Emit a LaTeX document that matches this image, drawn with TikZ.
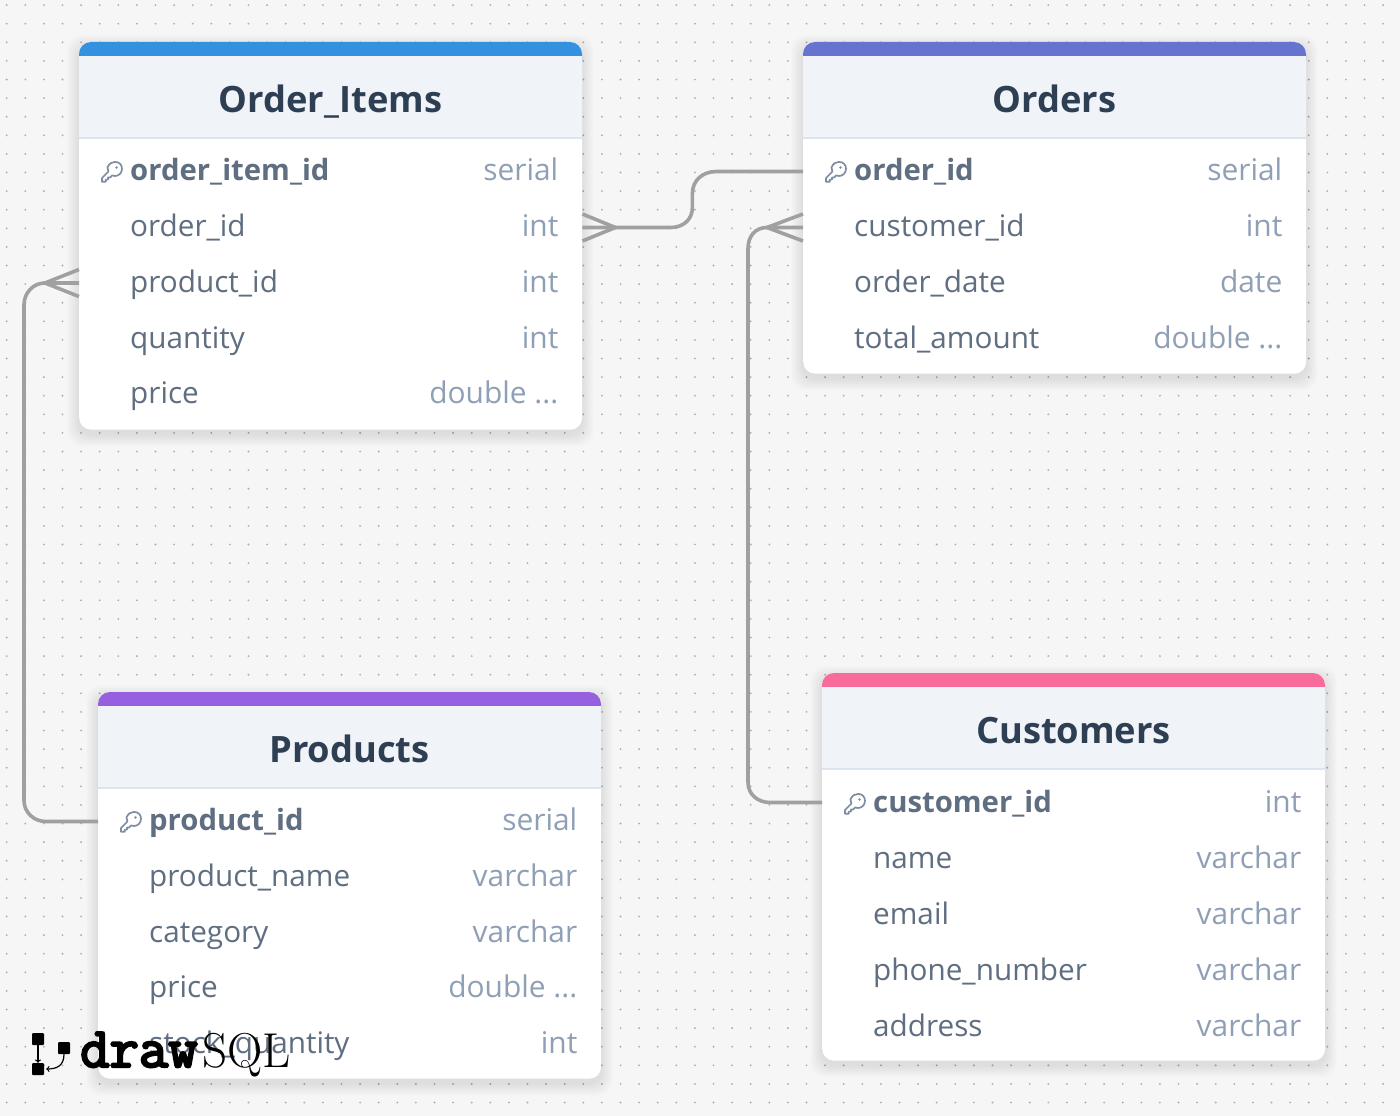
\documentclass[tikz,border=0pt]{standalone}
\usepackage{fontspec}
\setmainfont{Open Sans}
\newfontfamily\logoboldfont[FakeBold=4]{Latin Modern Mono}
\newfontfamily\logormfont{Latin Modern Roman}
\definecolor{bgc}{HTML}{F6F6F6}
\definecolor{dotc}{HTML}{B0B0B0}
\definecolor{headc}{HTML}{F0F4F9}
\definecolor{rulec}{HTML}{DCE4EE}
\definecolor{titlec}{HTML}{2F3F53}
\definecolor{namec}{HTML}{5F6E80}
\definecolor{typec}{HTML}{8FA0B6}
\definecolor{keyc}{HTML}{7F8EA2}
\definecolor{linec}{HTML}{A0A0A0}
\definecolor{cblue}{HTML}{3391E0}
\definecolor{cindigo}{HTML}{6673CF}
\definecolor{cpurple}{HTML}{9660E0}
\definecolor{cpink}{HTML}{F86B9A}
\tikzset{
  x=1pt,y=-1pt,
  cardbox/.style={anchor=north west,fill=white,rounded corners=12pt,inner sep=0pt,minimum width=503pt},
  titletext/.style={anchor=base,text=titlec,inner sep=0pt,font=\fontsize{36.3}{37}\selectfont\bfseries},
  nametext/.style={anchor=base west,text=namec,inner sep=0pt,font=\fontsize{29.7}{30}\selectfont},
  pknametext/.style={nametext,font=\fontsize{29.3}{30}\selectfont\bfseries},
  typetext/.style={anchor=base east,text=typec,inner sep=0pt,font=\fontsize{29.9}{30}\selectfont},
  rel/.style={draw=linec,line width=3.6pt},
  keyline/.style={draw=keyc,line width=1.7pt,line join=round,line cap=round},
  logobox/.style={fill=black,rounded corners=1pt},
  logoline/.style={draw=black,line width=1.2pt},
}
% #1 id, #2 x, #3 y, #4 height, #5 colour, #6 title
\newcommand{\dbcard}[6]{%
  \foreach \i in {1,...,12}{\fill[black,opacity=.008,rounded corners=15pt] (#2-\i,#3-\i+5) rectangle (#2+503+\i,#3+#4+\i+5);}
  \node[cardbox,minimum height=#4pt] (#1) at (#2,#3) {};
  \fill[#5,rounded corners=12pt] (#2,#3) rectangle (#2+503,#3+30);
  \fill[headc] (#2,#3+14) rectangle (#2+503,#3+96);
  \draw[rulec,line width=1.4pt] (#2,#3+96) -- (#2+503,#3+96);
  \node[titletext] (#1-title) at (#2+251.5,#3+70) {#6};
}
% #1 id, #2 card x, #3 baseline y, #4 name, #5 type, #6 name style
\newcommand{\dbrow}[6]{%
  \node[#6] (#1-n) at (#2+51,#3-1) {#4};
  \node[typetext] (#1-t) at (#2+479.5,#3-1) {#5};
}
\newcommand{\keyicon}[2]{%
  \begin{scope}[shift={(#1,#2)}]
    \draw[keyline] (6.5,6.5) .. controls (8,2.5) and (11,0.9) .. (14,0.9)
      .. controls (18.5,0.9) and (21,4) .. (21,7.8)
      .. controls (21,12.2) and (17.5,15) .. (14,15)
      .. controls (13,15) and (12,14.8) .. (11.2,14.4)
      -- (9.2,16.4) -- (7,16.4) -- (7,18.6) -- (4.8,18.6) -- (4.8,20.8) -- (1,20.8) -- (1,17) -- (7.4,10.6)
      .. controls (6.8,9.4) and (6.2,8) .. (6.5,6.5) -- cycle;
    \fill[keyc] (15.5,6.5) circle (1.4);
  \end{scope}
}
\begin{document}
\begin{tikzpicture}
\useasboundingbox (0,0) rectangle (1400,1116);
\fill[bgc] (0,0) rectangle (1400,1116);
\foreach \a in {0,...,75}{\foreach \b in {0,...,59}{
  \fill[dotc] ({6.7+18.6*\a},{5.1+18.6*\b}) circle (1.05);
}}
% cards
\dbcard{oi}{79}{42}{387.5}{cblue}{Order\_Items}
\dbcard{or}{803}{42}{331.5}{cindigo}{Orders}
\dbcard{pr}{98}{692}{386.5}{cpurple}{Products}
\dbcard{cu}{822}{673}{387.5}{cpink}{Customers}
% ports
\coordinate (oiR2) at ([yshift=-185.5pt]oi.north east);
\coordinate (oiL3) at ([yshift=-241pt]oi.north west);
\coordinate (orL1) at ([yshift=-129.5pt]or.north west);
\coordinate (orL2) at ([yshift=-185.5pt]or.north west);
\coordinate (prL1) at ([yshift=-129.5pt]pr.north west);
\coordinate (cuL1) at ([yshift=-129.5pt]cu.north west);
% connectors
\coordinate (a1) at ([xshift=33pt]oiR2);
\draw[rel] (oiR2) -- (a1) -- ++(55,0) .. controls +(14,0) and +(0,11) .. ++(22,-20) -- ++(0,-14) .. controls +(0,-13) and +(-14,0) .. ++(24,-22) -- (orL1);
\draw[rel] ([yshift=13.5pt]oiR2) -- (a1) -- ([yshift=-13.5pt]oiR2);
\coordinate (a2) at ([xshift=-36pt]orL2);
\draw[rel] (orL2) -- (a2) .. controls +(-12,0) and +(0,-12) .. ++(-19,21) -- ([xshift=-74pt,yshift=20pt]cuL1) .. controls +(0,12) and +(-12,0) .. ([xshift=-52pt]cuL1) -- (cuL1);
\draw[rel] ([yshift=13.5pt]orL2) -- (a2) -- ([yshift=-13.5pt]orL2);
\coordinate (a3) at ([xshift=-34pt]oiL3);
\draw[rel] (oiL3) -- (a3) .. controls +(-12,0) and +(0,-12) .. ++(-21,22) -- ([xshift=-74pt,yshift=21pt]prL1) .. controls +(0,12) and +(-12,0) .. ([xshift=-52pt]prL1) -- (prL1);
\draw[rel] ([yshift=13.5pt]oiL3) -- (a3) -- ([yshift=-13.5pt]oiL3);
% Order_Items rows
\keyicon{101}{161}
\dbrow{oi1}{79}{181}{order\_item\_id}{serial}{pknametext}
\dbrow{oi2}{79}{237}{order\_id}{int}{nametext}
\dbrow{oi3}{79}{293}{product\_id}{int}{nametext}
\dbrow{oi4}{79}{349}{quantity}{int}{nametext}
\dbrow{oi5}{79}{404}{price}{double ...}{nametext}
% Orders rows
\keyicon{825}{161}
\dbrow{or1}{803}{181}{order\_id}{serial}{pknametext}
\dbrow{or2}{803}{237}{customer\_id}{int}{nametext}
\dbrow{or3}{803}{293}{order\_date}{date}{nametext}
\dbrow{or4}{803}{349}{total\_amount}{double ...}{nametext}
% Products rows
\keyicon{120}{811}
\dbrow{pr1}{98}{831}{product\_id}{serial}{pknametext}
\dbrow{pr2}{98}{887}{product\_name}{varchar}{nametext}
\dbrow{pr3}{98}{943}{category}{varchar}{nametext}
\dbrow{pr4}{98}{998}{price}{double ...}{nametext}
\dbrow{pr5}{98}{1054}{stock\_quantity}{int}{nametext}
% Customers rows
\keyicon{844}{793}
\dbrow{cu1}{822}{813}{customer\_id}{int}{pknametext}
\dbrow{cu2}{822}{869}{name}{varchar}{nametext}
\dbrow{cu3}{822}{925}{email}{varchar}{nametext}
\dbrow{cu4}{822}{981}{phone\_number}{varchar}{nametext}
\dbrow{cu5}{822}{1037}{address}{varchar}{nametext}
% logo
\node[logobox,minimum size=12pt,inner sep=0pt] (lg1) at (38,1039) {};
\node[logobox,minimum size=12pt,inner sep=0pt] (lg2) at (64,1048) {};
\node[logobox,minimum size=12pt,inner sep=0pt] (lg3) at (38,1069) {};
\draw[logoline,->,>=to] (lg1) -- (lg3);
\draw[logoline,->,>=to] (lg2.south) .. controls +(0,12) and +(10,0) .. ([xshift=2pt]lg3.east);
\node[anchor=base west,inner sep=0pt,font=\logoboldfont\fontsize{57}{57}\selectfont] (lgd) at (80,1067) {draw};
\node[anchor=base west,inner sep=0pt,font=\logormfont\fontsize{49}{49}\selectfont] (lgs) at (202,1067) {SQL};
\end{tikzpicture}
\end{document}
